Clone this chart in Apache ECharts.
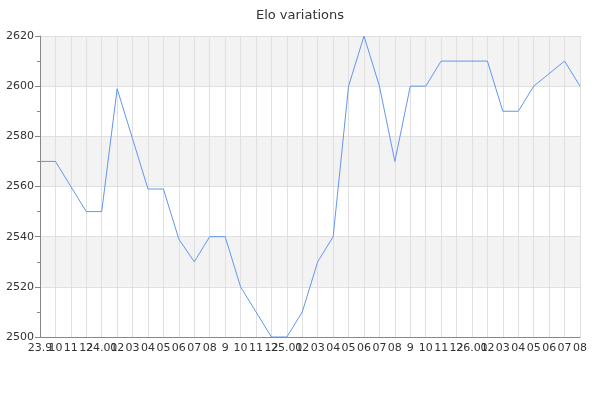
<!DOCTYPE html>
<html>
<head>
<meta charset="utf-8">
<script src="https://cdn.jsdelivr.net/npm/echarts@6/dist/echarts.min.js"></script>
<style>html,body{margin:0;padding:0;background:#fff}#c{width:600px;height:400px}</style>
</head>
<body>
<div id="c"></div>
<script>
var categories = ['23.9','10','11','12','24.01','02','03','04','05','06','07','08','9','10','11','12','25.01','02','03','04','05','06','07','08','9','10','11','12','26.01','02','03','04','05','06','07','08'];
var elo = [2570,2570,2560,2550,2550,2599,2579,2559,2559,2539,2530,2540,2540,2520,2510,2500,2500,2510,2530,2540,2600,2620,2600,2570,2600,2600,2610,2610,2610,2610,2590,2590,2600,2605,2610,2600];
var yMin = 2500, yMax = 2620, yStep = 20;

var chart = echarts.init(document.getElementById('c'), null, {renderer:'canvas'});
chart.setOption({
  animation: false,
  title: {text: 'Elo variations', left: 'center', top: 4, textStyle: {fontFamily: 'DejaVu Sans', fontSize: 13, fontWeight: 'normal', color: '#333'}},
  grid: {left: 40, right: 20, top: 36, bottom: 63, containLabel: false},
  xAxis: {
    type: 'category', data: categories, boundaryGap: false,
    axisLine: {lineStyle: {color: '#888'}},
    axisTick: {show: false},
    axisLabel: {interval: 0, color: '#333', fontFamily: 'DejaVu Sans', fontSize: 11, margin: 6},
    splitLine: {show: true, interval: 0, lineStyle: {color: '#e0e0e0'}}
  },
  yAxis: {
    type: 'value', min: yMin, max: yMax, interval: yStep,
    axisLine: {show: true, lineStyle: {color: '#888'}},
    axisTick: {show: true, length: 5, lineStyle: {color: '#888'}},
    minorTick: {show: true, splitNumber: 2, length: 3, lineStyle: {color: '#888'}},
    axisLabel: {color: '#333', fontFamily: 'DejaVu Sans', fontSize: 11, margin: 6, formatter: function (v) { return String(v); }},
    splitLine: {show: true, lineStyle: {color: '#e0e0e0'}},
    splitArea: {show: true, areaStyle: {color: ['#ffffff', '#f3f3f3']}}
  },
  series: [{
    type: 'line', data: elo, showSymbol: false, symbol: 'none',
    lineStyle: {color: '#6495ed', width: 1}
  }]
});
</script>
</body>
</html>
